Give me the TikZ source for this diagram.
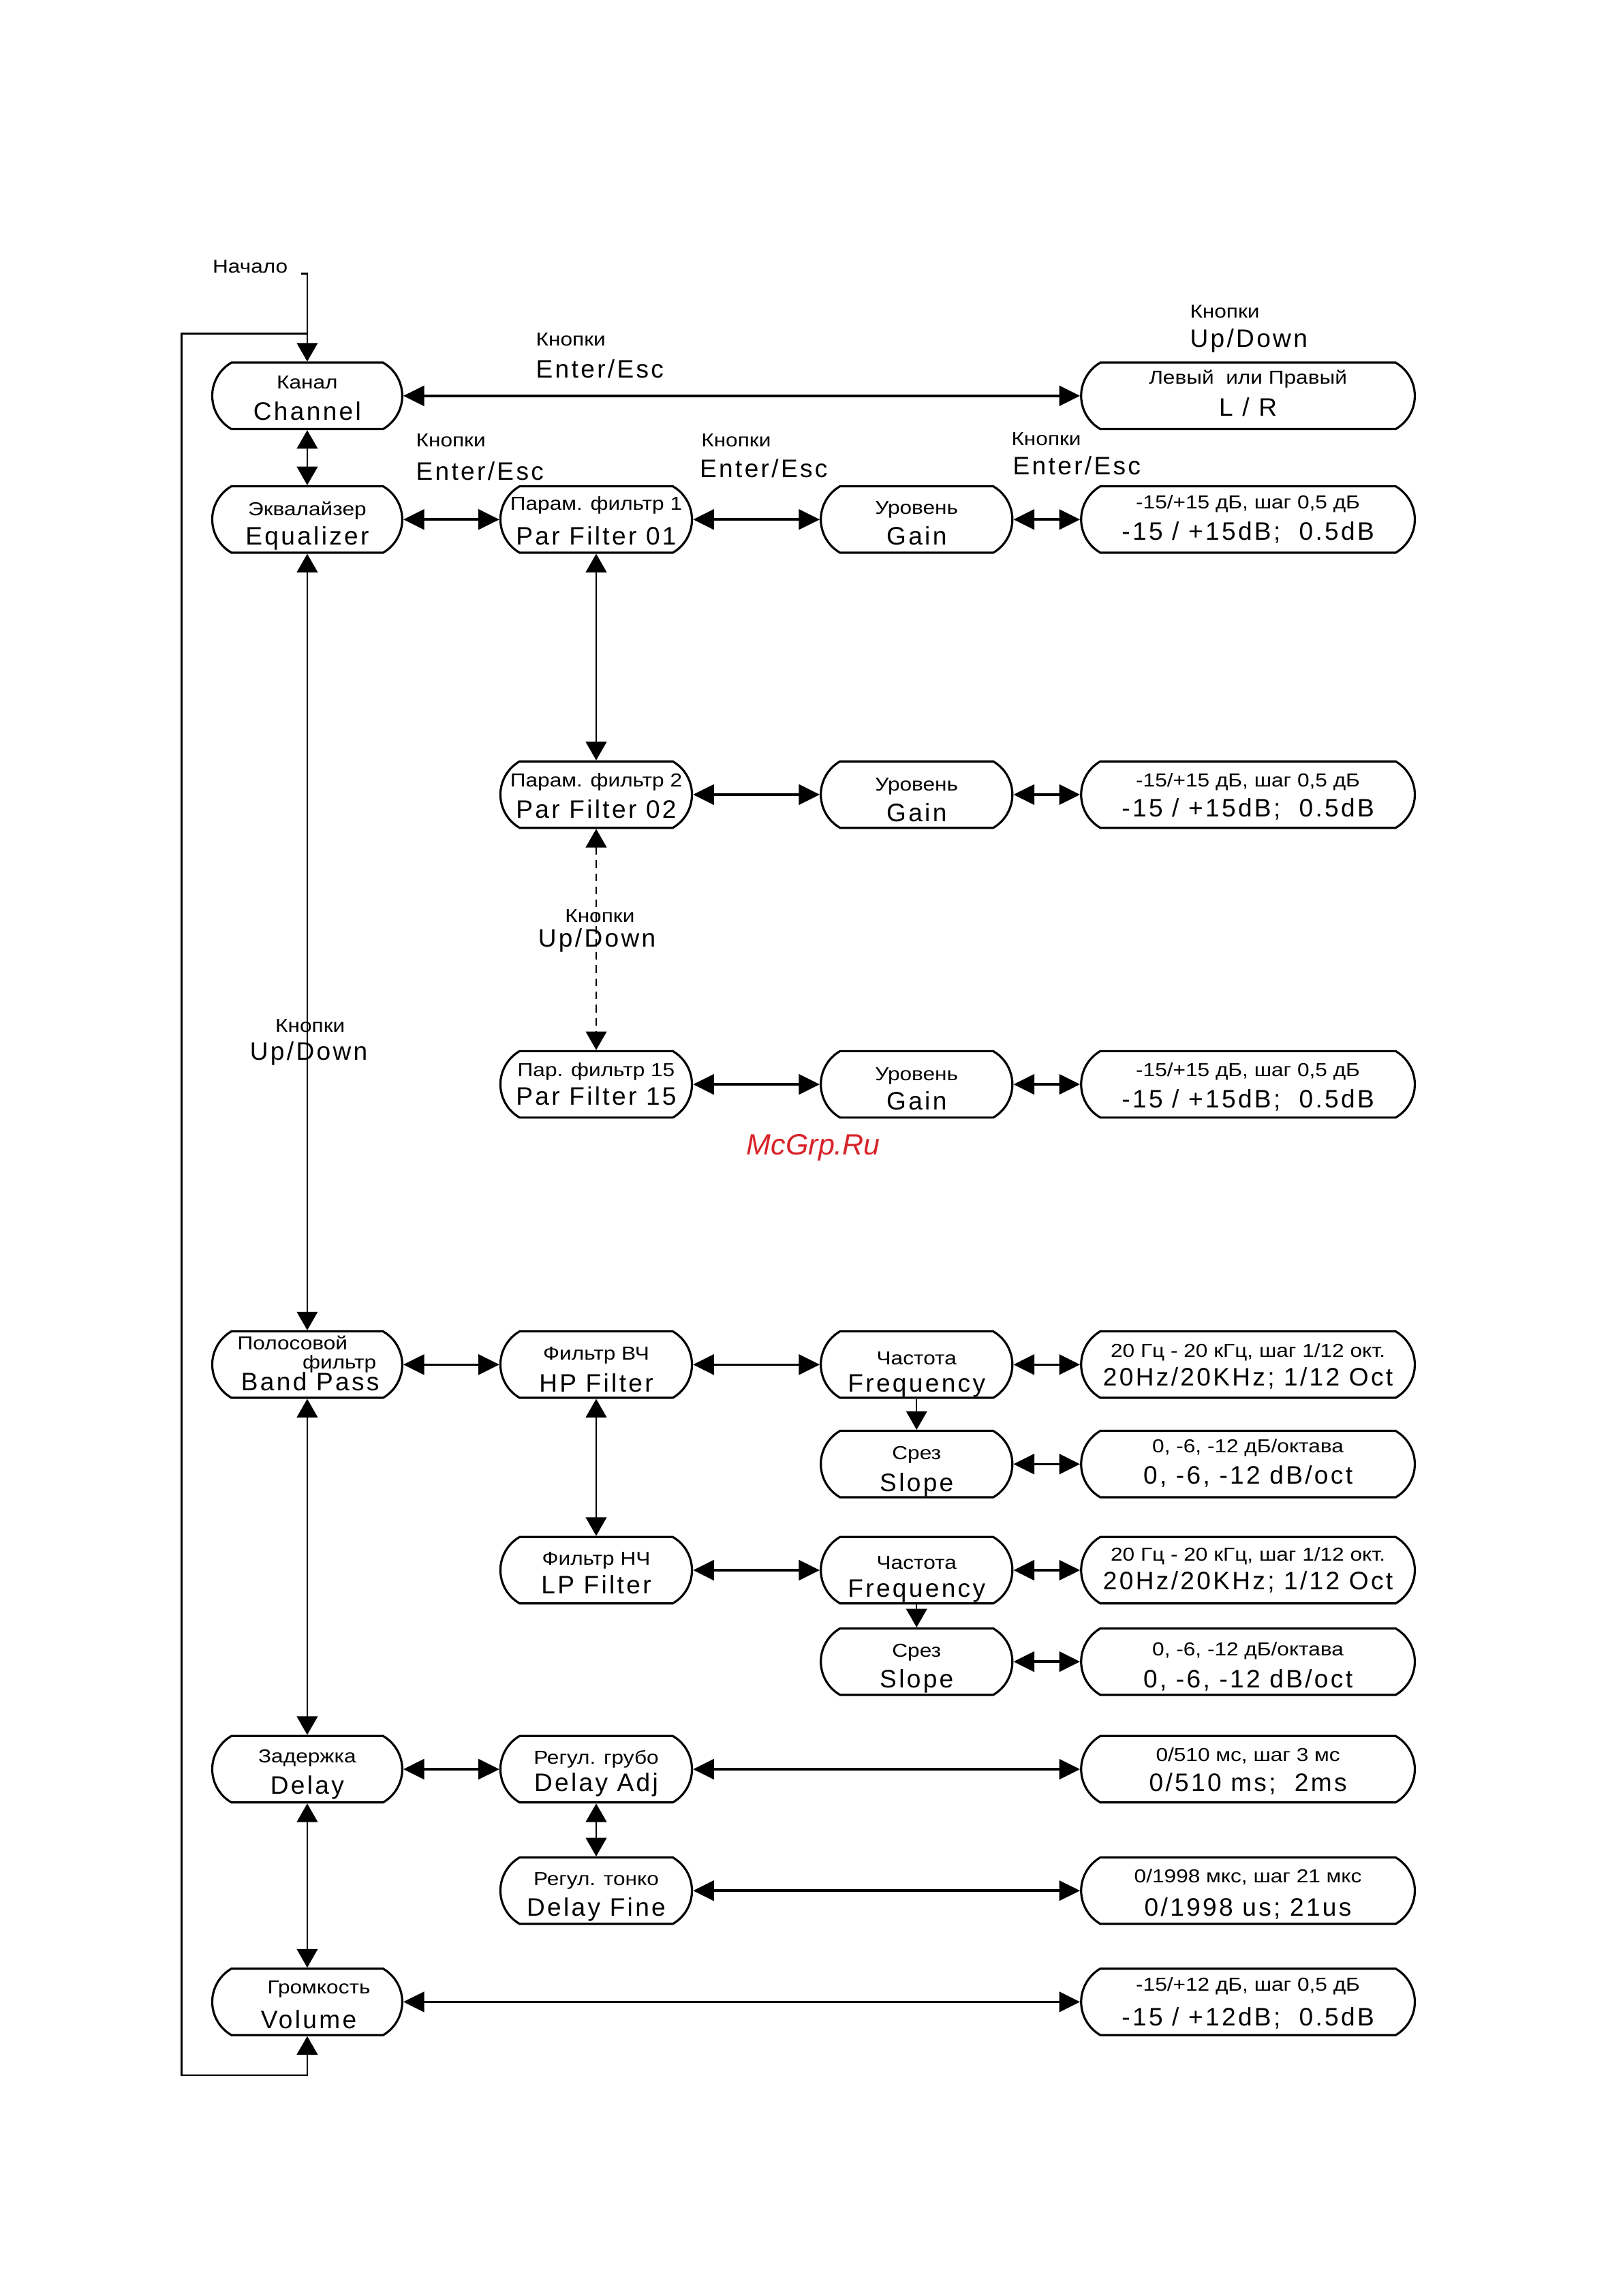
\documentclass[tikz,border=0pt]{standalone}
\usepackage{fontspec}
\usetikzlibrary{shapes.misc,arrows.meta}
\newfontfamily\famS[FakeStretch=1.15]{Liberation Sans}
\newfontfamily\famB[LetterSpace=9]{Liberation Sans}
\newfontfamily\famW{Liberation Sans}
\newcommand\fntS{\famS\fontsize{6.9}{8}\selectfont}
\newcommand\fntB{\famB\fontsize{9.3}{11}\selectfont}
\newcommand\fntW{\famW\itshape\fontsize{10.8}{12}\selectfont}
\definecolor{wmred}{RGB}{215,35,40}
\tikzset{
  tri/.tip={Triangle[length=2.7mm,width=2.6mm]},
  vtri/.tip={Triangle[length=2.4mm,width=2.7mm]},
  box/.style={draw, line width=0.8pt, rounded rectangle, rounded rectangle arc length=120,
              minimum height=8.6mm, inner sep=0pt},
  c1/.style={box, minimum width=24.6mm},
  c2/.style={box, minimum width=24.8mm},
  c3/.style={box, minimum width=24.8mm},
  c4/.style={box, minimum width=43.2mm},
  st/.style={inner sep=0pt, font=\fntS, text height=1.7mm, text depth=0pt},
  bt/.style={inner sep=0pt, font=\fntB, text height=2.35mm, text depth=0pt},
  hdbl/.style={line width=0.9pt, tri-tri},
  vdbl/.style={line width=0.55pt, vtri-vtri},
  vone/.style={line width=0.55pt, -vtri},
  loopline/.style={line width=0.65pt},
}
\newcommand\bx[8]{%
  \node[#4] (#1) at (#2,#3) {};
  \node[st] (#1-a) at (#2,#5) {#6};
  \node[bt] (#1-b) at (#2,#7) {#8};
}
\begin{document}
\begin{tikzpicture}[x=0.1894mm,y=-0.1894mm]
\useasboundingbox (0,0) rectangle (1109,1569);

% column 1
\bx{ch}{210}{270.5}{c1}{261}{Канал}{281}{Channel}
\bx{eq}{210}{355}{c1}{348}{Эквалайзер}{366}{Equalizer}
\node[c1] (bp) at (210,932.5) {};
\node[st] (bp-a) at (200,918) {Полосовой};
\node[st] (bp-c) at (232,931) {фильтр};
\node[bt] (bp-b) at (212,944) {Band Pass};
\bx{dl}{210}{1209}{c1}{1200}{Задержка}{1220}{Delay}
\node[c1] (vol) at (210,1368) {};
\node[st] (vol-a) at (218,1358) {Громкость};
\node[bt] (vol-b) at (211,1380) {Volume};

% column 2
\bx{pf1}{407.5}{355}{c2}{344}{Парам. фильтр 1}{366}{Par Filter 01}
\bx{pf2}{407.5}{543}{c2}{533}{Парам. фильтр 2}{553}{Par Filter 02}
\bx{pf15}{407.5}{741}{c2}{731}{Пар. фильтр 15}{749}{Par Filter 15}
\bx{hp}{407.5}{932.5}{c2}{925}{Фильтр ВЧ}{945}{HP Filter}
\bx{lp}{407.5}{1073}{c2}{1065}{Фильтр НЧ}{1083}{LP Filter}
\bx{da}{407.5}{1209}{c2}{1201}{Регул. грубо}{1218}{Delay Adj}
\bx{df}{407.5}{1292}{c2}{1284}{Регул. тонко}{1303}{Delay Fine}

% column 3
\bx{g1}{626.5}{355}{c3}{347}{Уровень}{366}{Gain}
\bx{g2}{626.5}{543}{c3}{536}{Уровень}{555}{Gain}
\bx{g15}{626.5}{741}{c3}{734}{Уровень}{752}{Gain}
\bx{fh}{626.5}{932.5}{c3}{928}{Частота}{945}{Frequency}
\bx{sh}{626.5}{1000.5}{c3}{993}{Срез}{1013}{Slope}
\bx{fl}{626.5}{1073}{c3}{1068}{Частота}{1085}{Frequency}
\bx{sl}{626.5}{1135.5}{c3}{1128}{Срез}{1147}{Slope}

% column 4
\bx{lr}{853}{270.5}{c4}{258}{Левый\ \ или Правый}{278}{L / R}
\bx{v1}{853}{355}{c4}{343}{-15/+15 дБ, шаг 0,5 дБ}{363}{-15 / +15dB;\ \ 0.5dB}
\bx{v2}{853}{543}{c4}{533}{-15/+15 дБ, шаг 0,5 дБ}{552}{-15 / +15dB;\ \ 0.5dB}
\bx{v15}{853}{741}{c4}{731}{-15/+15 дБ, шаг 0,5 дБ}{751}{-15 / +15dB;\ \ 0.5dB}
\bx{vfh}{853}{932.5}{c4}{923}{20 Гц - 20 кГц, шаг 1/12 окт.}{941}{20Hz/20KHz; 1/12 Oct}
\bx{vsh}{853}{1000.5}{c4}{988}{0, -6, -12 дБ/октава}{1008}{0, -6, -12 dB/oct}
\bx{vfl}{853}{1073}{c4}{1062}{20 Гц - 20 кГц, шаг 1/12 окт.}{1080}{20Hz/20KHz; 1/12 Oct}
\bx{vsl}{853}{1135.5}{c4}{1127}{0, -6, -12 дБ/октава}{1147}{0, -6, -12 dB/oct}
\bx{vda}{853}{1209}{c4}{1199}{0/510 мс, шаг 3 мс}{1218}{0/510 ms;\ \ 2ms}
\bx{vdf}{853}{1292}{c4}{1282}{0/1998 мкс, шаг 21 мкс}{1303}{0/1998 us; 21us}
\bx{vvol}{853}{1368}{c4}{1356}{-15/+12 дБ, шаг 0,5 дБ}{1378}{-15 / +12dB;\ \ 0.5dB}

% free labels
\node[st] (start) at (171,182) {Начало};
\node[st,anchor=west] (k1) at (366,232) {Кнопки};
\node[bt,anchor=west] (e1) at (366,252) {Enter/Esc};
\node[st,anchor=west] (k2) at (813,213) {Кнопки};
\node[bt,anchor=west] (u2) at (813,231) {Up/Down};
\node[st,anchor=west] (k3) at (284,301) {Кнопки};
\node[bt,anchor=west] (e3) at (284,322) {Enter/Esc};
\node[st,anchor=west] (k4) at (479,301) {Кнопки};
\node[bt,anchor=west] (e4) at (478,320) {Enter/Esc};
\node[st,anchor=west] (k5) at (691,300) {Кнопки};
\node[bt,anchor=west] (e5) at (692,318) {Enter/Esc};
\node[st] (k6) at (410,626) {Кнопки};
\node[bt] (u6) at (408,641) {Up/Down};
\node[st] (k7) at (212,701) {Кнопки};
\node[bt] (u7) at (211,718) {Up/Down};
\node[font=\fntW, text=wmred, inner sep=0pt] (wm) at (556,784) {McGrp.Ru};

% start and loop
\coordinate (s0) at (206,187);
\coordinate (s1) at (210,187);
\coordinate (lpA) at (210,1418);
\coordinate (lpB) at (124,1418);
\coordinate (lpC) at (124,228);
\coordinate (lpD) at (210,228);
\draw[vone] (s0) -- (s1) -- (ch.north);
\draw[loopline, vtri-] (vol.south) -- (lpA) -- (lpB) -- (lpC) -- (lpD);

% connectors
\draw[hdbl] (ch.east) -- (lr.west);
\draw[vdbl] (ch.south) -- (eq.north);
\draw[vdbl] (eq.south) -- (bp.north);
\draw[vdbl] (bp.south) -- (dl.north);
\draw[vdbl] (dl.south) -- (vol.north);
\draw[hdbl] (eq.east) -- (pf1.west);
\draw[hdbl] (pf1.east) -- (g1.west);
\draw[hdbl] (g1.east) -- (v1.west);
\draw[vdbl] (pf1.south) -- (pf2.north);
\draw[vdbl, dash pattern=on 1mm off 0.7mm] (pf2.south) -- (pf15.north);
\draw[hdbl] (pf2.east) -- (g2.west);
\draw[hdbl] (g2.east) -- (v2.west);
\draw[hdbl] (pf15.east) -- (g15.west);
\draw[hdbl] (g15.east) -- (v15.west);
\draw[hdbl] (bp.east) -- (hp.west);
\draw[hdbl] (hp.east) -- (fh.west);
\draw[hdbl] (fh.east) -- (vfh.west);
\draw[vone] (fh.south) -- (sh.north);
\draw[hdbl] (sh.east) -- (vsh.west);
\draw[vdbl] (hp.south) -- (lp.north);
\draw[hdbl] (lp.east) -- (fl.west);
\draw[hdbl] (fl.east) -- (vfl.west);
\draw[vone] (fl.south) -- (sl.north);
\draw[hdbl] (sl.east) -- (vsl.west);
\draw[hdbl] (dl.east) -- (da.west);
\draw[hdbl] (da.east) -- (vda.west);
\draw[vdbl] (da.south) -- (df.north);
\draw[hdbl] (df.east) -- (vdf.west);
\draw[hdbl] (vol.east) -- (vvol.west);
\end{tikzpicture}
\end{document}
